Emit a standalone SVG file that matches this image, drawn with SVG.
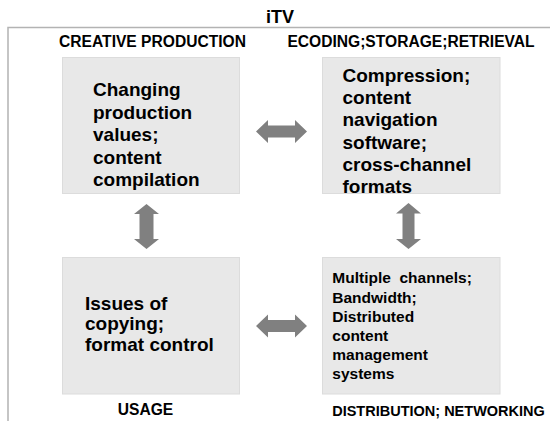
<svg xmlns="http://www.w3.org/2000/svg" width="550" height="421" viewBox="0 0 550 421">
  <style>
    .frame { fill: none; stroke: #b3b3b3; stroke-width: 1.5; }
    .box { fill: #e8e8e8; stroke: #dcdcdc; stroke-width: 1; }
    .arrow { fill: #808080; }
    text { font-family: "Liberation Sans", Arial, sans-serif; font-weight: bold; fill: #000; }
    .title { font-size: 18px; text-anchor: middle; }
    .label { font-size: 15.6px; text-anchor: middle; }
    .label-sm { font-size: 14.5px; text-anchor: middle; }
    .big { font-size: 19px; }
    .small { font-size: 15.5px; }
  </style>

  <rect width="550" height="421" fill="#fff"/>

  <!-- outer frame: only the top and left edges fall inside the view -->
  <path class="frame" d="M8,421 V27.5 H550"/>
  <text class="title" x="280" y="23">iTV</text>

  <g id="creative-production">
    <text class="label" x="152.5" y="47">CREATIVE PRODUCTION</text>
    <rect class="box" x="62.5" y="57.5" width="177" height="136"/>
    <text class="big">
      <tspan x="93" y="96">Changing</tspan>
      <tspan x="93" y="118.5">production</tspan>
      <tspan x="93" y="141">values;</tspan>
      <tspan x="93" y="163.5">content</tspan>
      <tspan x="93" y="186">compilation</tspan>
    </text>
  </g>

  <g id="encoding-storage">
    <text class="label" x="411" y="47">ECODING;STORAGE;RETRIEVAL</text>
    <rect class="box" x="322.5" y="57.5" width="177.5" height="136"/>
    <text class="big">
      <tspan x="342.5" y="81.7">Compression;</tspan>
      <tspan x="342.5" y="104">content</tspan>
      <tspan x="342.5" y="126.3">navigation</tspan>
      <tspan x="342.5" y="148.6">software;</tspan>
      <tspan x="342.5" y="170.9">cross-channel</tspan>
      <tspan x="342.5" y="193.2">formats</tspan>
    </text>
  </g>

  <g id="usage">
    <rect class="box" x="62.5" y="257.5" width="177" height="136.5"/>
    <text class="big">
      <tspan x="85" y="309.5">Issues of</tspan>
      <tspan x="85" y="330">copying;</tspan>
      <tspan x="85" y="351">format control</tspan>
    </text>
    <text class="label" x="145.5" y="415">USAGE</text>
  </g>

  <g id="distribution">
    <rect class="box" x="322.5" y="257.5" width="177.5" height="136.5"/>
    <text class="small" xml:space="preserve">
      <tspan x="332.3" y="283.3">Multiple  channels;</tspan>
      <tspan x="332.3" y="302.5">Bandwidth;</tspan>
      <tspan x="332.3" y="321.7">Distributed</tspan>
      <tspan x="332.3" y="340.9">content</tspan>
      <tspan x="332.3" y="360.1">management</tspan>
      <tspan x="332.3" y="379.3">systems</tspan>
    </text>
    <text class="label-sm" x="438.5" y="415.5">DISTRIBUTION; NETWORKING</text>
  </g>

  <g id="connectors">
    <!-- horizontal double arrows -->
    <polygon class="arrow" points="256,131.5 268,120 268,125.5 295,125.5 295,120 307,131.5 295,143 295,137.5 268,137.5 268,143"/>
    <polygon class="arrow" points="256,326 268,314.5 268,320 295,320 295,314.5 307,326 295,337.5 295,332 268,332 268,337.5"/>
    <!-- vertical double arrows -->
    <polygon class="arrow" points="146.5,204 159,214 153.5,214 153.5,239 159,239 146.5,249 134,239 139.5,239 139.5,214 134,214"/>
    <polygon class="arrow" points="408.5,203 421,213.5 414.5,213.5 414.5,239 421,239 408.5,249 396,239 402.5,239 402.5,213.5 396,213.5"/>
  </g>
</svg>
